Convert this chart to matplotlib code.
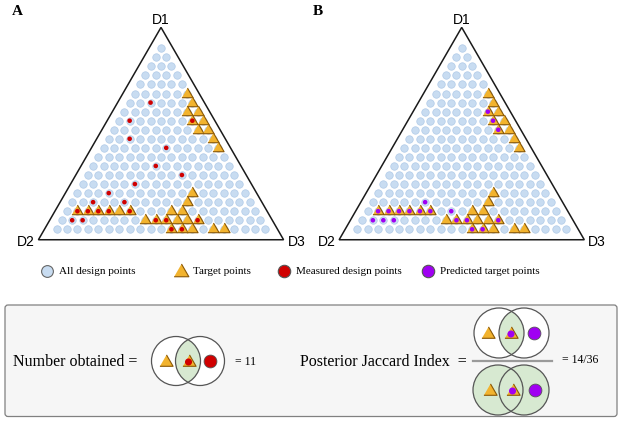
import numpy as np
import matplotlib
matplotlib.use("Agg")
import matplotlib.pyplot as plt
from matplotlib.patches import Circle, Polygon, FancyBboxPatch

# design grid: 21 rows, row r (0 = D1 corner) holds r + 1 points
n_rows = 21

# target points (row, column)
target_rows = [5, 6, 7, 7, 8, 8, 9, 9, 10, 11,
               16, 17, 18, 18, 18, 18, 18, 18, 18, 18,
               19, 19, 19, 19, 19, 19, 20, 20, 20, 20, 20]
target_cols = [5, 6, 6, 7, 7, 8, 8, 9, 10, 11,
               11, 11, 1, 2, 3, 4, 5, 6, 10, 11,
               8, 9, 10, 11, 12, 13, 11, 12, 13, 15, 16]

# measured design points (panel A)
measured_rows = [6, 8, 8, 10, 11, 13, 14, 15, 16, 17, 17,
                 18, 18, 18, 18, 18, 19, 19, 19, 19, 19, 20, 20]
measured_cols = [2, 1, 7, 2, 6, 6, 9, 5, 3, 2, 5,
                 1, 2, 3, 4, 6, 1, 2, 9, 10, 13, 11, 12]

# predicted target points (panel B)
predicted_rows = [7, 8, 9, 17, 18, 18, 18, 18, 18, 18, 18,
                  19, 19, 19, 19, 19, 19, 20, 20]
predicted_cols = [6, 7, 8, 5, 1, 2, 3, 4, 5, 6, 8,
                  1, 2, 3, 9, 10, 13, 11, 12]

corner_labels = ["D1", "D2", "D3"]
legend_labels = ["All design points", "Target points",
                 "Measured design points", "Predicted target points"]
n_obtained = "= 11"
jaccard = "= 14/36"

BLUE, BLUE_EDGE = "#c8dcf1", "#b0cbe8"
GOLD, GOLD_EDGE = "#f2b32e", "#8a5806"
RED = "#d00000"
PURPLE = "#a000f2"
GREEN = "#d7e9d1"
SERIF = "Liberation Serif"

tri = [(-1, -0.577), (1, -0.577), (0, 1.155)]  # equilateral marker

W, H = 622, 423
fig = plt.figure(figsize=(W / 100, H / 100), dpi=100)

# overlay axes in pixel units for legend and bottom box
ax0 = fig.add_axes([0, 0, 1, 1])
ax0.set_xlim(0, W)
ax0.set_ylim(H, 0)
ax0.axis("off")


def grid_xy(rows, cols):
    rows = np.asarray(rows, float)
    cols = np.asarray(cols, float)
    return cols - rows / 2, -rows * np.sqrt(3) / 2


all_r = [r for r in range(n_rows) for c in range(r + 1)]
all_c = [c for r in range(n_rows) for c in range(r + 1)]

step, top_y = 10.45, 48.3


def panel(top_x, label, dot_rows, dot_cols, dot_color):
    x0, x1, y0, y1 = top_x - 150, top_x + 150, 5, 255
    ax = fig.add_axes([x0 / W, 1 - y1 / H, (x1 - x0) / W, (y1 - y0) / H])
    ax.set_xlim((x0 - top_x) / step, (x1 - top_x) / step)
    ax.set_ylim(-(y1 - top_y) / step, (top_y - y0) / step)
    ax.axis("off")

    hw = 11.73
    ax.add_patch(Polygon([(0, 2.0), (-hw, -18.32), (hw, -18.32)], closed=True,
                         fill=False, ec="#1a1a1a", lw=1.1, zorder=1))
    x, y = grid_xy(all_r, all_c)
    ax.scatter(x, y, s=29, c=BLUE, edgecolors=BLUE_EDGE, linewidths=0.5, zorder=2)
    x, y = grid_xy(target_rows, target_cols)
    ax.scatter(x, y, s=86, marker=tri, c=GOLD, edgecolors=GOLD_EDGE,
               linewidths=0.8, zorder=3)
    x, y = grid_xy(dot_rows, dot_cols)
    ax.scatter(x, y, s=11, c=dot_color, edgecolors="none", zorder=4)

    ax.text(0, 2.3, corner_labels[0], ha="center", va="baseline",
            fontsize=10, family="Liberation Sans")
    ax.text(-12.1, -18.5, corner_labels[1], ha="right", va="center",
            fontsize=10, family="Liberation Sans")
    ax.text(12.1, -18.5, corner_labels[2], ha="left", va="center",
            fontsize=10, family="Liberation Sans")
    ax0.text(top_x - 149, 15, label, fontsize=11, fontweight="bold",
             family=SERIF, ha="left", va="baseline")


panel(161, "A", measured_rows, measured_cols, RED)
panel(461.7, "B", predicted_rows, predicted_cols, PURPLE)

# legend row
ly = 271
ax0.scatter([47], [ly], s=72, c=BLUE, edgecolors="#666666", linewidths=0.8)
ax0.scatter([181], [ly + 1], s=150, marker=tri, c=GOLD, edgecolors=GOLD_EDGE,
            linewidths=0.8)
ax0.scatter([284], [ly], s=80, c=RED, edgecolors="#555555", linewidths=0.8)
ax0.scatter([428], [ly], s=80, c=PURPLE, edgecolors="#555555", linewidths=0.8)
for tx, lab in zip([59, 193, 296, 440], legend_labels):
    ax0.text(tx, ly, lab, fontsize=8, family=SERIF, ha="left", va="center")

# bottom box
ax0.add_patch(FancyBboxPatch((5, 305), 612, 111.5,
                             boxstyle="round,pad=0,rounding_size=3",
                             fc="#f6f6f6", ec="#808080", lw=0.9, zorder=0))


def venn(cx1, cx2, cy, r, all_green, item_xs, dot_color, big_color):
    base = GREEN if all_green else "white"
    for cx in (cx1, cx2):
        ax0.add_patch(Circle((cx, cy), r, fc=base, ec="none", zorder=1))
    lens = Circle((cx2, cy), r, fc=GREEN, ec="none", zorder=2)
    ax0.add_patch(lens)
    lens.set_clip_path(Circle((cx1, cy), r, transform=ax0.transData))
    for cx in (cx1, cx2):
        ax0.add_patch(Circle((cx, cy), r, fill=False, ec="#555555", lw=0.9, zorder=3))
    ax0.scatter(item_xs[:2], [cy + 1, cy + 1], s=120, marker=tri, c=GOLD,
                edgecolors=GOLD_EDGE, linewidths=0.8, zorder=4)
    ax0.scatter([item_xs[1]], [cy + 1], s=26, c=dot_color, edgecolors="none", zorder=5)
    ax0.scatter([item_xs[2]], [cy], s=85, c=big_color, edgecolors="#555555",
                linewidths=0.6, zorder=5)


ty = 362
ax0.text(13, ty, "Number obtained =", fontsize=11.5, family=SERIF,
         ha="left", va="center")
venn(176, 200, 361, 24.5, False, [166, 188.5, 209.5], RED, RED)
ax0.text(235, ty, n_obtained, fontsize=8.5, family=SERIF, ha="left", va="center")

ax0.text(467, ty, "Posterior Jaccard Index  =", fontsize=11.5, family=SERIF,
         ha="right", va="center")
venn(499, 524, 333, 25, False, [488, 511, 534], PURPLE, PURPLE)
ax0.plot([473, 552], [361.5, 361.5], color="#9a9a9a", lw=1.6, zorder=2)
venn(498, 524, 390, 25, True, [490, 512.5, 535], PURPLE, PURPLE)
ax0.text(562, 360, jaccard, fontsize=8.5, family=SERIF, ha="left", va="center")

fig.savefig("out.png", dpi=100)
